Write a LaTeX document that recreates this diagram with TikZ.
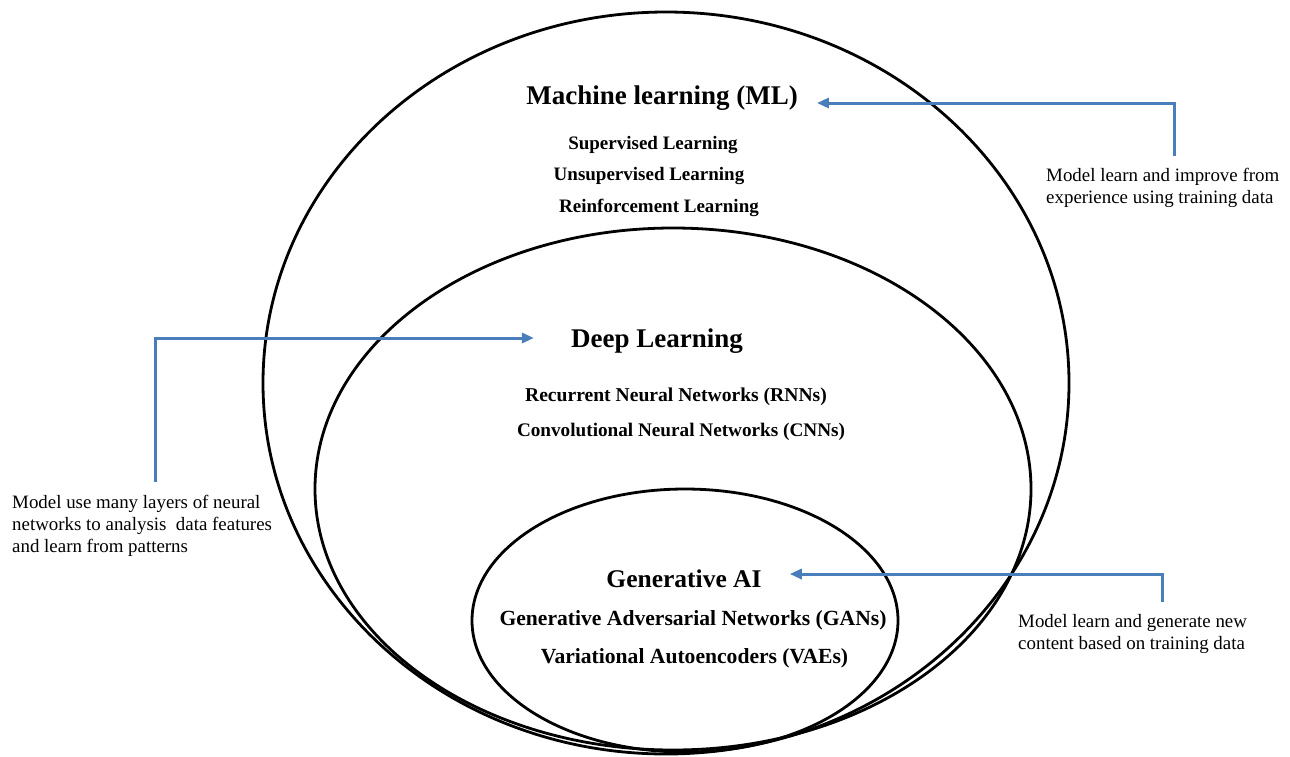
\documentclass[tikz,border=0pt]{standalone}
\usepackage{fontspec}
\setmainfont{Liberation Serif}
\usetikzlibrary{shapes.geometric,arrows.meta}
\definecolor{arrowblue}{HTML}{4A7EBB}
\tikzset{
  ring/.style={draw=black, line width=2.8pt, ellipse, inner sep=0pt},
  titletext/.style={font=\bfseries\fontsize{#1}{#1}\selectfont, inner sep=0pt},
  itemtext/.style={font=\bfseries\fontsize{19}{19}\selectfont, inner sep=0pt},
  notetext/.style={font=\fontsize{18.9}{22}\selectfont, align=left, inner sep=0pt, anchor=west},
  pointer/.style={draw=arrowblue, line width=3pt, -{Triangle[length=12pt,width=10pt]}},
}
\begin{document}
\begin{tikzpicture}[x=1pt,y=-1pt]
\useasboundingbox (0,0) rectangle (1290,756);
% ellipses
\node[ring, minimum width=806pt, minimum height=742pt] (mlring) at (666,383) {};
\node[ring, minimum width=716pt, minimum height=522pt] (dlring) at (673,489) {};
\node[ring, minimum width=426pt, minimum height=263pt] (gairing) at (685,620.5) {};
% titles and items
\node[titletext=27] (ml) at (662,98) {Machine learning (ML)};
\node[itemtext] (sup) at (653,145) {Supervised Learning};
\node[itemtext] (unsup) at (649,176) {Unsupervised Learning};
\node[itemtext] (rein) at (659,208) {Reinforcement Learning};
\node[titletext=27] (dl) at (657,341) {Deep Learning};
\node[itemtext, font=\bfseries\fontsize{19.6}{19.6}\selectfont] (rnn) at (676,397) {Recurrent Neural Networks (RNNs)};
\node[itemtext, font=\bfseries\fontsize{19.2}{19.2}\selectfont] (cnn) at (681,432) {Convolutional Neural Networks (CNNs)};
\node[titletext=25.5] (gai) at (684,579) {Generative AI};
\node[itemtext, font=\bfseries\fontsize{21.6}{21.6}\selectfont] (gan) at (693,620) {Generative Adversarial Networks (GANs)};
\node[itemtext, font=\bfseries\fontsize{21.6}{21.6}\selectfont] (vae) at (694.5,658) {Variational Autoencoders (VAEs)};
% notes
\node[notetext] (noteml) at (1046,188) {Model learn and improve from\\experience using training data};
\node[notetext] (notedl) at (12,525.5) {Model use many layers of neural\\networks to analysis\ \ data features\\and learn from patterns};
\node[notetext] (notegai) at (1018,633.5) {Model learn and generate new\\content based on training data};
% connectors
\coordinate (startml) at (1174,156);
\coordinate (startdl) at (155,482);
\coordinate (startgai) at (1162,602);
\draw[pointer] (startml) |- ([xshift=19pt,yshift=-5pt]ml.east);
\draw[pointer] (startdl) |- ([xshift=-37pt,yshift=3pt]dl.west);
\draw[pointer] (startgai) |- ([xshift=28pt,yshift=5pt]gai.east);
\end{tikzpicture}
\end{document}
